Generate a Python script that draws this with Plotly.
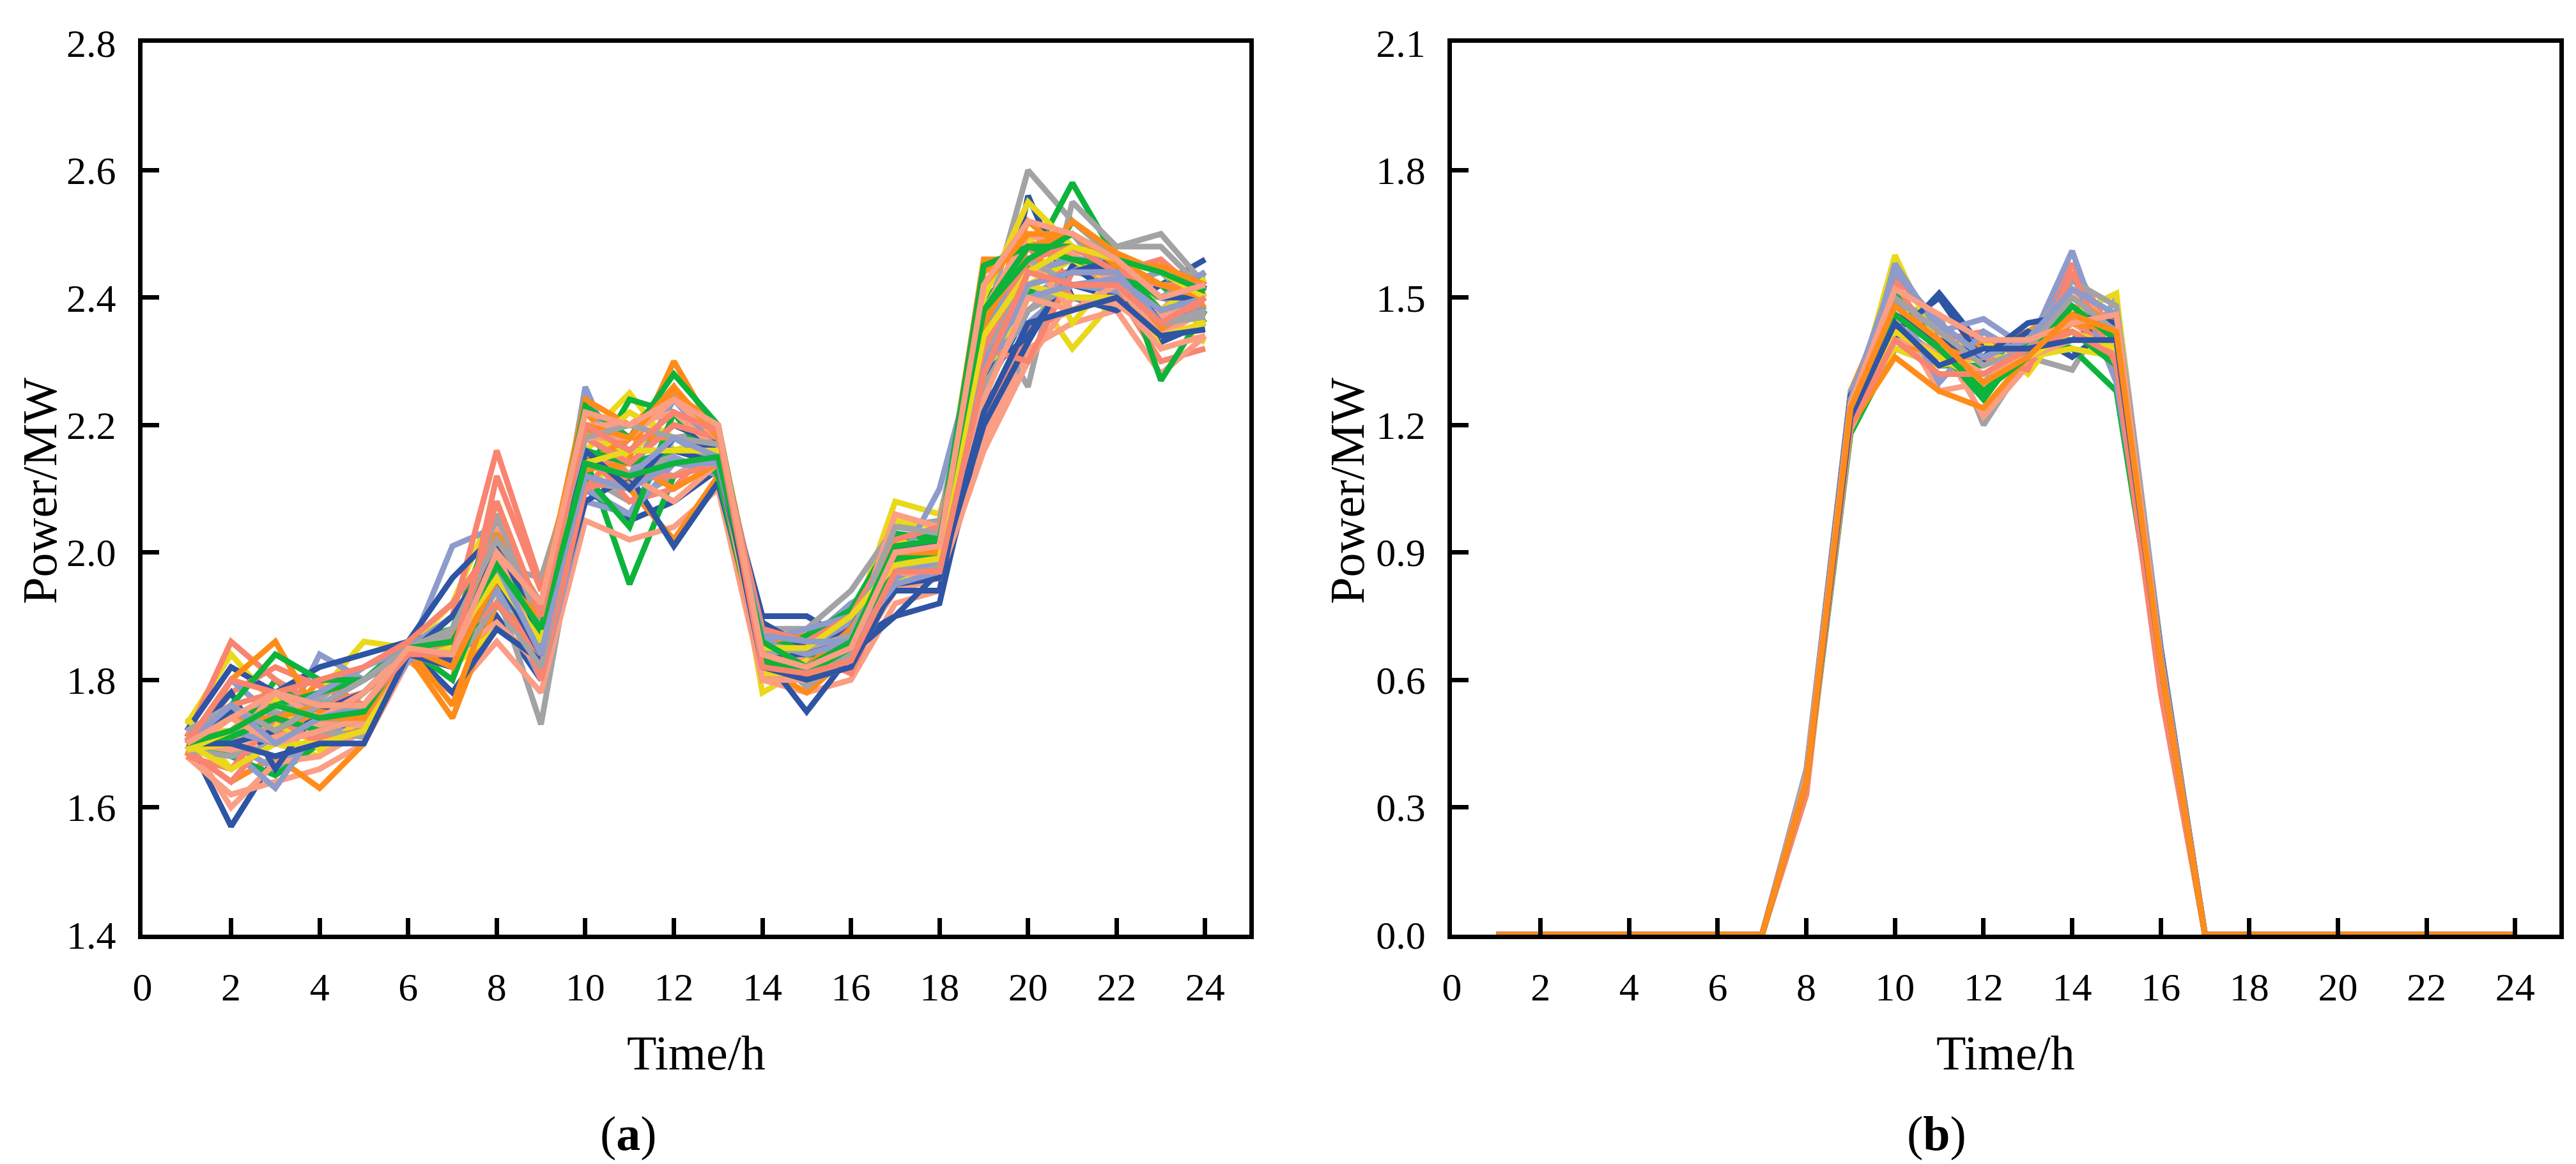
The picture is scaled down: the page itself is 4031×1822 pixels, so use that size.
import plotly.graph_objects as go

# hours on the x axis
hours = list(range(1, 25))

# (a) load scenarios, MW, one list per scenario (hours 1..24)
load_01 = [1.71, 1.57, 1.68, 1.70, 1.74, 1.84, 1.83, 1.90, 1.80, 2.10, 2.05, 2.08, 2.13, 1.85, 1.79, 1.85, 1.95, 1.98, 2.25, 2.38, 2.42, 2.40, 2.33, 2.36]
load_02 = [1.70, 1.74, 1.72, 1.80, 1.76, 1.85, 1.86, 1.97, 1.88, 2.22, 2.15, 2.30, 2.18, 1.84, 1.80, 1.86, 2.00, 2.02, 2.46, 2.46, 2.50, 2.46, 2.40, 2.42]
load_03 = [1.69, 1.70, 1.75, 1.72, 1.78, 1.85, 1.87, 1.94, 1.73, 2.12, 2.08, 2.12, 2.16, 1.86, 1.85, 1.90, 1.98, 2.03, 2.35, 2.60, 2.52, 2.46, 2.44, 2.40]
load_04 = [1.73, 1.84, 1.76, 1.78, 1.86, 1.85, 1.92, 2.08, 1.90, 2.18, 2.25, 2.16, 2.18, 1.78, 1.82, 1.88, 2.08, 2.06, 2.30, 2.42, 2.32, 2.40, 2.36, 2.33]
load_05 = [1.70, 1.72, 1.70, 1.84, 1.80, 1.84, 2.01, 2.04, 1.85, 2.26, 2.10, 2.15, 2.12, 1.83, 1.86, 1.92, 1.96, 1.99, 2.30, 2.40, 2.44, 2.45, 2.40, 2.44]
load_06 = [1.69, 1.70, 1.80, 1.74, 1.75, 1.85, 1.84, 1.98, 1.82, 2.15, 1.95, 2.12, 2.14, 1.87, 1.84, 1.88, 2.02, 2.03, 2.40, 2.45, 2.58, 2.46, 2.42, 2.36]
load_07 = [1.71, 1.86, 1.80, 1.76, 1.78, 1.84, 1.90, 2.16, 1.95, 2.20, 2.12, 2.24, 2.20, 1.82, 1.80, 1.82, 1.95, 1.96, 2.20, 2.35, 2.38, 2.41, 2.30, 2.32]
load_08 = [1.68, 1.62, 1.64, 1.66, 1.70, 1.83, 1.78, 1.86, 1.78, 2.05, 2.02, 2.04, 2.10, 1.80, 1.78, 1.80, 1.92, 1.94, 2.18, 2.32, 2.36, 2.38, 2.28, 2.34]
load_09 = [1.72, 1.82, 1.78, 1.82, 1.84, 1.86, 1.96, 2.03, 1.90, 2.14, 2.18, 2.26, 2.16, 1.90, 1.90, 1.86, 1.90, 1.92, 2.22, 2.56, 2.40, 2.38, 2.42, 2.46]
load_10 = [1.69, 1.64, 1.68, 1.63, 1.70, 1.84, 1.74, 1.92, 1.86, 2.20, 2.10, 2.02, 2.12, 1.82, 1.78, 1.84, 1.98, 2.00, 2.36, 2.52, 2.46, 2.43, 2.36, 2.40]
load_11 = [1.70, 1.76, 1.73, 1.77, 1.82, 1.86, 1.88, 1.98, 1.96, 2.18, 2.20, 2.18, 2.19, 1.88, 1.88, 1.94, 2.04, 2.05, 2.38, 2.26, 2.55, 2.48, 2.50, 2.42]
load_12 = [1.74, 1.66, 1.70, 1.68, 1.73, 1.84, 1.82, 1.88, 1.84, 2.10, 2.16, 2.20, 2.17, 1.86, 1.83, 1.86, 2.05, 2.04, 2.28, 2.50, 2.36, 2.44, 2.32, 2.34]
load_13 = [1.68, 1.70, 1.66, 1.72, 1.72, 1.83, 1.86, 1.94, 1.80, 2.08, 2.06, 2.18, 2.14, 1.84, 1.82, 1.90, 2.00, 2.00, 2.34, 2.46, 2.50, 2.42, 2.44, 2.38]
load_14 = [1.70, 1.68, 1.65, 1.70, 1.72, 1.84, 1.85, 1.92, 1.83, 2.12, 2.24, 2.22, 2.15, 1.86, 1.86, 1.86, 1.99, 2.01, 2.32, 2.40, 2.52, 2.47, 2.27, 2.38]
load_15 = [1.69, 1.78, 1.82, 1.79, 1.76, 1.85, 1.80, 2.12, 1.94, 2.16, 2.08, 2.10, 2.18, 1.81, 1.84, 1.81, 1.96, 1.98, 2.26, 2.44, 2.44, 2.43, 2.38, 2.44]
load_16 = [1.71, 1.60, 1.67, 1.68, 1.72, 1.84, 1.84, 1.89, 1.82, 2.14, 2.14, 2.12, 2.15, 1.80, 1.80, 1.83, 1.94, 1.96, 2.16, 2.30, 2.40, 2.39, 2.34, 2.36]
load_17 = [1.70, 1.75, 1.72, 1.75, 1.78, 1.85, 1.78, 1.88, 1.83, 2.08, 2.12, 2.01, 2.11, 1.84, 1.75, 1.84, 1.90, 1.97, 2.20, 2.33, 2.45, 2.40, 2.34, 2.42]
load_18 = [1.68, 1.80, 1.86, 1.74, 1.74, 1.85, 1.76, 1.95, 1.92, 2.24, 2.20, 2.25, 2.20, 1.86, 1.87, 1.86, 2.01, 1.99, 2.44, 2.48, 2.48, 2.44, 2.35, 2.39]
load_19 = [1.70, 1.72, 1.78, 1.72, 1.76, 1.84, 1.87, 2.00, 1.88, 2.11, 2.10, 2.16, 2.14, 1.86, 1.79, 1.84, 2.02, 2.04, 2.37, 2.38, 2.44, 2.48, 2.48, 2.41]
load_20 = [1.72, 1.72, 1.77, 1.69, 1.74, 1.85, 1.84, 1.96, 1.92, 2.16, 2.22, 2.18, 2.16, 1.84, 1.86, 1.88, 2.02, 2.00, 2.26, 2.42, 2.46, 2.42, 2.38, 2.36]
load_21 = [1.70, 1.69, 1.63, 1.73, 1.74, 1.84, 1.85, 1.97, 1.86, 2.10, 2.06, 2.14, 2.13, 1.85, 1.84, 1.89, 1.98, 1.96, 2.30, 2.36, 2.42, 2.41, 2.40, 2.38]
load_22 = [1.70, 1.74, 1.76, 1.78, 1.80, 1.86, 1.88, 2.06, 1.86, 2.12, 2.04, 2.22, 2.12, 1.83, 1.87, 1.91, 2.03, 2.02, 2.30, 2.44, 2.46, 2.44, 2.42, 2.43]
load_23 = [1.69, 1.64, 1.72, 1.71, 1.72, 1.84, 1.86, 1.99, 1.80, 2.10, 2.18, 2.26, 2.16, 1.80, 1.82, 1.86, 1.99, 1.99, 2.34, 2.48, 2.40, 2.40, 2.34, 2.40]
load_24 = [1.70, 1.69, 1.71, 1.73, 1.73, 1.84, 1.86, 1.96, 1.90, 2.14, 2.12, 2.08, 2.14, 1.82, 1.80, 1.86, 1.99, 2.01, 2.38, 2.50, 2.47, 2.42, 2.37, 2.41]
load_25 = [1.70, 1.78, 1.66, 1.76, 1.80, 1.85, 1.86, 2.02, 1.84, 2.16, 2.14, 2.20, 2.17, 1.89, 1.85, 1.85, 1.94, 1.94, 2.28, 2.34, 2.44, 2.45, 2.36, 2.38]
load_26 = [1.69, 1.70, 1.72, 1.75, 1.74, 1.84, 1.84, 1.96, 1.86, 2.13, 2.14, 2.10, 2.14, 1.85, 1.80, 1.87, 2.00, 2.02, 2.35, 2.44, 2.52, 2.47, 2.44, 2.40]
load_27 = [1.69, 1.68, 1.70, 1.72, 1.71, 1.84, 1.82, 1.92, 1.82, 2.12, 2.10, 2.16, 2.15, 1.82, 1.82, 1.84, 1.96, 1.97, 2.26, 2.38, 2.42, 2.42, 2.36, 2.37]
load_28 = [1.69, 1.70, 1.73, 1.70, 1.72, 1.85, 1.85, 1.94, 1.90, 2.18, 2.16, 2.22, 2.18, 1.84, 1.82, 1.85, 1.98, 2.00, 2.40, 2.55, 2.48, 2.46, 2.38, 2.43]
load_29 = [1.70, 1.80, 1.74, 1.78, 1.82, 1.85, 1.90, 2.00, 1.84, 2.14, 2.12, 2.24, 2.16, 1.86, 1.88, 1.90, 1.97, 2.10, 2.36, 2.44, 2.46, 2.46, 2.40, 2.44]
load_30 = [1.71, 1.76, 1.84, 1.80, 1.80, 1.85, 1.80, 1.98, 1.90, 2.23, 2.18, 2.28, 2.20, 1.85, 1.84, 1.84, 2.00, 2.02, 2.45, 2.48, 2.46, 2.45, 2.38, 2.40]
load_31 = [1.68, 1.66, 1.74, 1.70, 1.72, 1.84, 1.86, 1.92, 1.84, 2.10, 2.12, 2.12, 2.14, 1.84, 1.84, 1.88, 1.96, 1.98, 2.32, 2.30, 2.44, 2.44, 2.46, 2.40]
load_32 = [1.72, 1.70, 1.78, 1.74, 1.78, 1.85, 1.86, 2.04, 1.90, 2.20, 2.20, 2.22, 2.16, 1.82, 1.84, 1.86, 2.06, 2.04, 2.32, 2.46, 2.38, 2.42, 2.34, 2.38]
load_33 = [1.70, 1.70, 1.72, 1.76, 1.76, 1.84, 1.90, 2.00, 1.90, 2.20, 2.16, 2.16, 2.14, 1.84, 1.84, 1.88, 2.00, 2.02, 2.28, 2.42, 2.44, 2.46, 2.40, 2.40]
load_34 = [1.70, 1.74, 1.74, 1.76, 1.76, 1.85, 1.86, 2.03, 1.92, 2.14, 2.18, 2.18, 2.16, 1.86, 1.82, 1.88, 1.99, 2.01, 2.36, 2.48, 2.50, 2.45, 2.45, 2.42]
load_35 = [1.70, 1.72, 1.76, 1.74, 1.74, 1.84, 1.84, 2.06, 1.88, 2.18, 2.14, 2.20, 2.18, 1.82, 1.82, 1.84, 1.98, 1.98, 2.30, 2.46, 2.42, 2.42, 2.36, 2.38]
load_36 = [1.70, 1.66, 1.70, 1.70, 1.72, 1.84, 1.84, 1.94, 1.86, 2.14, 2.12, 2.18, 2.16, 1.81, 1.81, 1.83, 1.96, 1.97, 2.28, 2.42, 2.40, 2.40, 2.34, 2.36]
load_37 = [1.69, 1.72, 1.70, 1.72, 1.74, 1.84, 1.84, 1.94, 1.86, 2.12, 2.10, 2.14, 2.14, 1.86, 1.84, 1.86, 1.96, 1.99, 2.30, 2.40, 2.42, 2.43, 2.38, 2.40]
load_38 = [1.70, 1.71, 1.74, 1.72, 1.74, 1.85, 1.84, 1.98, 1.88, 2.16, 2.14, 2.16, 2.16, 1.83, 1.81, 1.85, 1.99, 2.00, 2.38, 2.48, 2.48, 2.44, 2.40, 2.42]
load_39 = [1.71, 1.76, 1.78, 1.80, 1.82, 1.86, 1.92, 2.02, 1.92, 2.18, 2.14, 2.20, 2.18, 1.88, 1.86, 1.90, 2.02, 2.04, 2.32, 2.46, 2.48, 2.44, 2.42, 2.42]
load_40 = [1.69, 1.74, 1.70, 1.72, 1.74, 1.84, 1.82, 2.00, 1.84, 2.18, 2.18, 2.24, 2.18, 1.80, 1.80, 1.82, 1.97, 1.96, 2.24, 2.40, 2.38, 2.40, 2.32, 2.34]
load_41 = [1.70, 1.70, 1.68, 1.70, 1.70, 1.84, 1.82, 1.96, 1.84, 2.16, 2.10, 2.18, 2.16, 1.82, 1.80, 1.82, 1.95, 1.96, 2.22, 2.36, 2.38, 2.40, 2.34, 2.35]
load_42 = [1.70, 1.72, 1.76, 1.74, 1.74, 1.85, 1.82, 1.96, 1.90, 2.20, 2.18, 2.26, 2.18, 1.84, 1.82, 1.86, 2.00, 2.00, 2.42, 2.50, 2.50, 2.46, 2.42, 2.40]
load_43 = [1.72, 1.76, 1.72, 1.76, 1.80, 1.85, 1.88, 2.02, 1.92, 2.18, 2.20, 2.18, 2.17, 1.84, 1.85, 1.87, 2.04, 2.03, 2.34, 2.44, 2.42, 2.42, 2.36, 2.37]
load_44 = [1.69, 1.72, 1.76, 1.74, 1.76, 1.85, 1.86, 1.96, 1.86, 2.14, 2.16, 2.16, 2.16, 1.85, 1.85, 1.90, 1.98, 1.99, 2.34, 2.44, 2.48, 2.46, 2.44, 2.40]
load_45 = [1.70, 1.76, 1.70, 1.74, 1.76, 1.85, 1.86, 1.98, 1.84, 2.14, 2.12, 2.18, 2.15, 1.87, 1.86, 1.86, 1.95, 1.97, 2.28, 2.42, 2.44, 2.44, 2.36, 2.40]
load_46 = [1.70, 1.72, 1.76, 1.74, 1.75, 1.85, 1.86, 1.98, 1.88, 2.14, 2.12, 2.14, 2.15, 1.86, 1.82, 1.86, 2.01, 2.02, 2.38, 2.46, 2.50, 2.46, 2.44, 2.41]
load_47 = [1.70, 1.80, 1.78, 1.76, 1.76, 1.84, 1.84, 2.08, 1.90, 2.20, 2.16, 2.22, 2.19, 1.82, 1.81, 1.83, 1.97, 1.97, 2.28, 2.44, 2.42, 2.42, 2.36, 2.40]
load_48 = [1.70, 1.74, 1.78, 1.76, 1.76, 1.85, 1.84, 2.00, 1.92, 2.22, 2.20, 2.24, 2.20, 1.84, 1.82, 1.85, 2.00, 2.01, 2.42, 2.52, 2.50, 2.46, 2.40, 2.42]

load_curves = [load_01, load_02, load_03, load_04, load_05, load_06, load_07,
               load_08, load_09, load_10, load_11, load_12, load_13, load_14,
               load_15, load_16, load_17, load_18, load_19, load_20, load_21,
               load_22, load_23, load_24, load_25, load_26, load_27, load_28,
               load_29, load_30, load_31, load_32, load_33, load_34, load_35,
               load_36, load_37, load_38, load_39, load_40, load_41, load_42,
               load_43, load_44, load_45, load_46, load_47, load_48]

# (b) PV scenarios, MW: zero at night, daytime values for hours 8..16
night_am = [0.0] * 7   # hours 1-7
night_pm = [0.0] * 8   # hours 17-24
pv_01 = [0.36, 1.24, 1.55, 1.44, 1.28, 1.38, 1.58, 1.40, 0.64]
pv_02 = [0.35, 1.22, 1.46, 1.28, 1.30, 1.36, 1.44, 1.38, 0.62]
pv_03 = [0.38, 1.26, 1.40, 1.51, 1.38, 1.40, 1.40, 1.46, 0.66]
pv_04 = [0.36, 1.28, 1.52, 1.40, 1.38, 1.42, 1.48, 1.44, 0.64]
pv_05 = [0.39, 1.28, 1.48, 1.46, 1.20, 1.36, 1.33, 1.50, 0.68]
pv_06 = [0.33, 1.22, 1.60, 1.38, 1.40, 1.32, 1.46, 1.51, 0.58]
pv_07 = [0.37, 1.20, 1.58, 1.42, 1.45, 1.38, 1.61, 1.32, 0.66]
pv_08 = [0.35, 1.18, 1.38, 1.34, 1.34, 1.42, 1.38, 1.28, 0.62]
pv_09 = [0.37, 1.25, 1.48, 1.40, 1.42, 1.34, 1.45, 1.36, 0.63]
pv_10 = [0.36, 1.20, 1.44, 1.40, 1.22, 1.34, 1.52, 1.42, 0.65]
pv_11 = [0.37, 1.27, 1.42, 1.50, 1.35, 1.42, 1.36, 1.44, 0.67]
pv_12 = [0.36, 1.26, 1.40, 1.36, 1.40, 1.40, 1.50, 1.43, 0.64]
pv_13 = [0.38, 1.24, 1.44, 1.36, 1.30, 1.40, 1.54, 1.48, 0.66]
pv_14 = [0.34, 1.24, 1.38, 1.34, 1.36, 1.36, 1.38, 1.36, 0.58]
pv_15 = [0.37, 1.22, 1.50, 1.30, 1.42, 1.36, 1.56, 1.30, 0.65]
pv_16 = [0.36, 1.22, 1.52, 1.38, 1.26, 1.40, 1.42, 1.34, 0.62]
pv_17 = [0.33, 1.25, 1.54, 1.36, 1.36, 1.33, 1.56, 1.34, 0.57]
pv_18 = [0.36, 1.19, 1.40, 1.38, 1.32, 1.36, 1.40, 1.40, 0.64]
pv_19 = [0.36, 1.24, 1.46, 1.40, 1.36, 1.44, 1.46, 1.44, 0.64]
pv_20 = [0.36, 1.20, 1.36, 1.28, 1.24, 1.36, 1.44, 1.42, 0.66]
pv_21 = [0.36, 1.23, 1.50, 1.42, 1.34, 1.38, 1.50, 1.42, 0.64]
pv_22 = [0.35, 1.21, 1.42, 1.36, 1.30, 1.36, 1.42, 1.38, 0.62]
pv_23 = [0.37, 1.26, 1.56, 1.44, 1.36, 1.40, 1.52, 1.46, 0.66]
pv_24 = [0.36, 1.24, 1.46, 1.38, 1.28, 1.36, 1.48, 1.40, 0.63]
pv_25 = [0.35, 1.20, 1.40, 1.32, 1.32, 1.38, 1.42, 1.36, 0.62]
pv_26 = [0.37, 1.25, 1.52, 1.46, 1.40, 1.40, 1.44, 1.46, 0.65]
pv_27 = [0.36, 1.22, 1.44, 1.34, 1.38, 1.38, 1.40, 1.40, 0.64]
pv_28 = [0.36, 1.24, 1.48, 1.40, 1.30, 1.36, 1.46, 1.42, 0.64]

pv_days = [pv_01, pv_02, pv_03, pv_04, pv_05, pv_06, pv_07, pv_08, pv_09, pv_10,
           pv_11, pv_12, pv_13, pv_14, pv_15, pv_16, pv_17, pv_18, pv_19, pv_20,
           pv_21, pv_22, pv_23, pv_24, pv_25, pv_26, pv_27, pv_28]

# line colours, cycled over the scenarios
palette = ["#2E54A4", "#FF8C1A", "#A3A3A6", "#EAD81A",
           "#8E9BCB", "#0DB33B", "#F9846F", "#FB9E84"]

FONT = "Palatino Linotype, Book Antiqua, Palatino, Liberation Serif, serif"
LINE_W = 9

fig = go.Figure()

for i, curve in enumerate(load_curves):
    fig.add_trace(go.Scatter(
        x=hours, y=curve, mode="lines",
        line=dict(color=palette[i % len(palette)], width=LINE_W),
        xaxis="x", yaxis="y", showlegend=False,
    ))

# offset the colour cycle so the last (top) PV curve is orange
for i, day in enumerate(pv_days):
    fig.add_trace(go.Scatter(
        x=hours, y=night_am + day + night_pm, mode="lines",
        line=dict(color=palette[(i + 6) % len(palette)], width=LINE_W),
        xaxis="x2", yaxis="y2", showlegend=False,
    ))

axis_style = dict(
    showline=True, linecolor="black", linewidth=7, mirror=True,
    ticks="inside", ticklen=26, tickwidth=7, tickcolor="black",
    showgrid=False, zeroline=False,
    tickfont=dict(family=FONT, size=62, color="black"),
    ticklabelstandoff=22,
)

fig.update_layout(
    width=4031, height=1822,
    margin=dict(l=215, r=34, t=59, b=367),
    paper_bgcolor="white", plot_bgcolor="white",
    showlegend=False,
    xaxis=dict(domain=[0, 0.458], range=[0, 25], dtick=2, tick0=0, **axis_style),
    yaxis=dict(range=[1.4, 2.8], dtick=0.2, tick0=1.4, tickformat=".1f", **axis_style),
    xaxis2=dict(domain=[0.5418, 1], range=[0, 25], dtick=2, tick0=0, anchor="y2", **axis_style),
    yaxis2=dict(range=[0, 2.1], dtick=0.3, tick0=0, tickformat=".1f", anchor="x2", **axis_style),
)

title_font = dict(family=FONT, size=76, color="black")
notes = [
    dict(x=0.229, y=-0.1325, text="Time/h"),
    dict(x=0.7708, y=-0.1325, text="Time/h"),
    dict(x=0.201, y=-0.2228, text="(<b>a</b>)"),
    dict(x=0.7422, y=-0.2228, text="(<b>b</b>)"),
    dict(x=-0.0426, y=0.498, text="Power/MW", textangle=-90),
    dict(x=0.4984, y=0.498, text="Power/MW", textangle=-90),
]
for n in notes:
    fig.add_annotation(xref="paper", yref="paper", showarrow=False,
                       xanchor="center", yanchor="middle",
                       font=title_font, **n)

fig.write_html("out.html")
